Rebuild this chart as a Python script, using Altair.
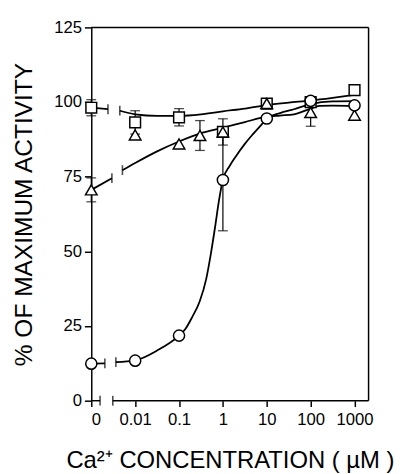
import altair as alt
import numpy as np
import pandas as pd

# ---------------- data ----------------
ZERO_POS = -3.0          # axis position (log10 units) used for concentration 0
X_MAX = 3.32             # right edge of the frame (log10 units)
AXIS_BREAK = [-2.80, -2.51]

x_tick_pos = [-3, -2, -1, 0, 1, 2, 3]
x_tick_labels = ["0", "0.01", "0.1", "1", "10", "100", "1000"]
y_ticks = [0, 25, 50, 75, 100, 125]

# squares
conc_sq = [0, 0.01, 0.1, 1, 10, 100, 1000]
val_sq = [98.1, 93.2, 94.9, 90.0, 99.5, 100.0, 104.0]
err_sq = [2.7, 3.9, 2.9, 0, 0, 0, 0]

# triangles
conc_tri = [0, 0.01, 0.1, 0.3, 1, 10, 100, 1000]
val_tri = [70.6, 89.0, 86.0, 88.8, 90.0, 99.5, 96.5, 95.6]
err_tri = [4.0, 0, 0, 5.0, 4.4, 0, 4.6, 0]

# circles
conc_cir = [0, 0.01, 0.1, 1, 10, 100, 1000]
val_cir = [12.4, 13.4, 21.8, 73.9, 94.5, 100.4, 98.9]
err_cir = [0, 0, 0, 17.0, 0, 0, 0]

# fitted curves (x in log10 units)
sq_stub_pos = [-3.0, -2.62]
sq_stub_val = [98.1, 97.6]
sq_curve_pos = [-2.35, -2.0, -1.5, -1.0, -0.5, 0.0, 0.5, 1.0, 1.5, 2.0, 2.5, 3.0]
sq_curve_val = [97.1, 95.9, 95.4, 95.4, 95.9, 96.9, 97.8, 99.0, 99.8, 100.5, 101.4, 102.4]

tri_stub_pos = [-3.0, -2.53]
tri_stub_val = [70.6, 74.5]
tri_curve_pos = [-2.29, -2.0, -1.5, -1.0, -0.5, 0.0, 0.5, 1.0, 1.3, 1.62, 2.0, 2.2, 2.5, 3.0]
tri_curve_val = [77.2, 79.6, 83.5, 86.8, 89.6, 91.4, 93.3, 95.1, 95.5, 95.9, 97.8, 98.7, 98.8, 98.7]

cir_stub_pos = [-3.0, -2.69]
cir_stub_val = [12.4, 12.5]
cir_curve_pos = [-2.44, -2.0, -1.5, -1.0, -0.86, -0.7, -0.53, -0.38, -0.27, -0.18,
                 -0.09, 0.0, 0.15, 0.29, 0.5, 0.67, 0.89, 1.0, 1.3, 1.62, 2.0, 2.5, 3.0]
cir_curve_val = [12.9, 13.5, 16.8, 21.8, 23.9, 28.0, 33.2, 40.8, 49.6, 58.0,
                 67.0, 74.0, 78.5, 81.7, 86.0, 89.0, 92.6, 94.5, 96.3, 97.6, 99.3, 100.2, 100.3]

FONT = "Liberation Sans"

# ---------------- tables ----------------
def pos_of(c):
    return ZERO_POS if c == 0 else float(np.log10(c))

def points(name, conc, val, err):
    return pd.DataFrame({
        "series": name,
        "pos": [pos_of(c) for c in conc],
        "val": val,
        "err": err,
    })

pts_sq = points("sq", conc_sq, val_sq, err_sq)
pts_tri = points("tri", conc_tri, val_tri, err_tri)
pts_cir = points("cir", conc_cir, val_cir, err_cir)
all_pts = pd.concat([pts_sq, pts_tri, pts_cir], ignore_index=True)
errs = all_pts[all_pts["err"] > 0].copy()
errs["lo"] = errs["val"] - errs["err"]
errs["hi"] = errs["val"] + errs["err"]
caps = pd.concat([
    pd.DataFrame({"pos": errs["pos"], "v": errs["lo"]}),
    pd.DataFrame({"pos": errs["pos"], "v": errs["hi"]}),
], ignore_index=True)

seg_rows = []
for sid, (p, v) in enumerate([
    (sq_stub_pos, sq_stub_val), (sq_curve_pos, sq_curve_val),
    (tri_stub_pos, tri_stub_val), (tri_curve_pos, tri_curve_val),
    (cir_stub_pos, cir_stub_val), (cir_curve_pos, cir_curve_val),
]):
    for i, (pp, vv) in enumerate(zip(p, v)):
        seg_rows.append({"seg": sid, "order": i, "pos": pp, "val": vv})
segs = pd.DataFrame(seg_rows)

breaks = pd.DataFrame({
    "pos": [sq_stub_pos[-1], sq_curve_pos[0], tri_stub_pos[-1], tri_curve_pos[0],
            cir_stub_pos[-1], cir_curve_pos[0], AXIS_BREAK[0], AXIS_BREAK[1]],
    "val": [sq_stub_val[-1], sq_curve_val[0], tri_stub_val[-1], tri_curve_val[0],
            cir_stub_val[-1], cir_curve_val[0], 0, 0],
})

frame = pd.DataFrame({
    "x": [ZERO_POS, X_MAX, ZERO_POS, AXIS_BREAK[1]],
    "x2": [X_MAX, X_MAX, AXIS_BREAK[0], X_MAX],
    "y": [125, 0, 0, 0],
    "y2": [125, 125, 0, 0],
})

# ---------------- scales / axes ----------------
label_expr = " : ".join(
    [f"datum.value == {p} ? '{l}'" for p, l in zip(x_tick_pos, x_tick_labels)]
) + " : ''"

x_scale = alt.Scale(domain=[ZERO_POS, X_MAX], nice=False, zero=False)
y_scale = alt.Scale(domain=[0, 125], nice=False, zero=False)

x_axis = alt.Axis(
    values=x_tick_pos, labelExpr=label_expr, domain=False, grid=False,
    tickSize=6, tickColor="black", tickWidth=1.5,
    labelFont=FONT, labelFontSize=17, labelColor="black", labelPadding=5,
    title="Ca²⁺ CONCENTRATION ( µM )", titleFont=FONT, titleFontSize=24.3,
    titleFontWeight="normal", titleColor="black", titleY=68,
    titleBaseline="alphabetic",
)
y_axis = alt.Axis(
    values=y_ticks, domain=True, domainColor="black", domainWidth=1.5, grid=False,
    tickSize=7, tickColor="black", tickWidth=1.5,
    labelFont=FONT, labelFontSize=17, labelColor="black", labelPadding=3,
    title="% OF MAXIMUM ACTIVITY", titleFont=FONT, titleFontSize=25,
    titleFontWeight="normal", titleColor="black", titleX=-61, titleY=190.5,
    titleAngle=270, titleBaseline="alphabetic", titleAlign="center",
)

def X(field):
    return alt.X(field, type="quantitative", scale=x_scale, axis=x_axis)

def Y(field):
    return alt.Y(field, type="quantitative", scale=y_scale, axis=y_axis)

# ---------------- layers ----------------
frame_layer = alt.Chart(frame).mark_rule(color="black", strokeWidth=1.5).encode(
    x=X("x"), x2="x2", y=Y("y"), y2="y2")

lines = alt.Chart(segs).mark_line(
    interpolate="monotone", color="black", strokeWidth=1.8
).encode(x=X("pos"), y=Y("val"), detail="seg:N", order="order:Q")

break_ticks = alt.Chart(breaks).mark_tick(
    orient="vertical", size=10, thickness=1.6, color="black"
).encode(x=X("pos"), y=Y("val"))

err_rules = alt.Chart(errs).mark_rule(color="black", strokeWidth=1.2).encode(
    x=X("pos"), y=Y("lo"), y2="hi")

err_caps = alt.Chart(caps).mark_tick(
    orient="horizontal", size=10, thickness=1.3, color="black"
).encode(x=X("pos"), y=Y("v"))

def markers(df, shape, size):
    return alt.Chart(df).mark_point(
        shape=shape, size=size, filled=True, fill="white", stroke="black",
        strokeWidth=1.5, opacity=1
    ).encode(x=X("pos"), y=Y("val"))

chart = alt.layer(
    frame_layer, lines, break_ticks, err_rules, err_caps,
    markers(pts_sq, "square", 120),
    markers(pts_tri, "triangle-up", 140),
    markers(pts_cir, "circle", 130),
).properties(
    width=283, height=381,
    autosize=alt.AutoSizeParams(type="none"),
    padding={"left": 85, "top": 15, "right": 28, "bottom": 70},
    background="white",
).configure_view(stroke=None)

chart.save("out.html", embed_options={"renderer": "svg", "actions": False})
